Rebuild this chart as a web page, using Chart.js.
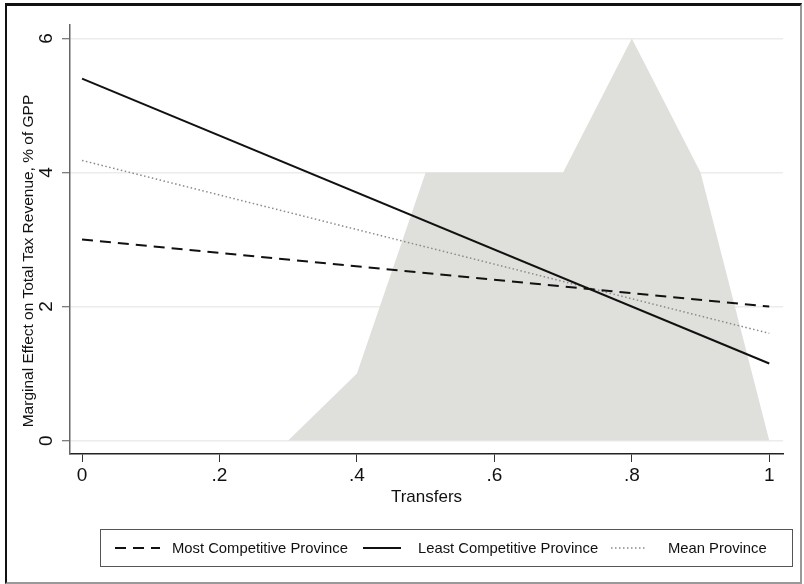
<!DOCTYPE html>
<html>
<head>
<meta charset="utf-8">
<script src="https://cdn.jsdelivr.net/npm/chart.js@4/dist/chart.umd.min.js"></script>
<style>
  html, body { margin: 0; padding: 0; background: #fff; }
  #wrap { position: relative; width: 804px; height: 584px; overflow: hidden; font-family: "Liberation Sans", Arial, sans-serif; }
  #chart { position: absolute; left: 0; top: 0; }
  .frame { position: absolute; left: 5px; top: 3px; width: 797px; height: 581px; box-sizing: border-box;
    border: 2px solid #111; border-right-color: #999; border-bottom-color: #999; border-top-width: 3px; }
  .ytitle { position: absolute; left: 28px; top: 261px; white-space: nowrap; font-size: 15.5px; color: #111;
    transform: translate(-50%, -50%) rotate(-90deg); }
  .legend { position: absolute; left: 100px; top: 529px; width: 693px; height: 38px; box-sizing: border-box;
    border: 1px solid #555; font-size: 14.8px; color: #111; }
  .legend .item { display: flex; align-items: center; position: absolute; top: 0; height: 36px; white-space: nowrap; }
  .legend svg { display: block; }
</style>
</head>
<body>
<div id="wrap">
  <canvas id="chart" width="804" height="584"></canvas>
  <div class="frame"></div>
  <div class="ytitle" id="ytitle"></div>
  <div class="legend" id="legend"></div>
</div>
<script>
const transfers = [0, 1];
const mostCompetitive = [3.0, 2.0];
const leastCompetitive = [5.4, 1.15];
const meanProvince = [4.18, 1.6];

// distribution of transfers shown as the grey area
const histX = [0.3, 0.4, 0.5, 0.6, 0.7, 0.8, 0.9, 1.0];
const histY = [0, 1, 4, 4, 4, 6, 4, 0];

const xTicks = [0, 0.2, 0.4, 0.6, 0.8, 1];
const xTickLabels = ["0", ".2", ".4", ".6", ".8", "1"];
const yTicks = [0, 2, 4, 6];
const yTickLabels = ["0", "2", "4", "6"];

const xTitle = "Transfers";
const yTitle = "Marginal Effect on Total Tax Revenue, % of GPP";
const seriesNames = ["Most Competitive Province", "Least Competitive Province", "Mean Province"];

const pts = (xs, ys) => xs.map((x, i) => ({ x, y: ys[i] }));

const lineStyles = [
  { color: "#111", width: 2, dash: [11, 7] },
  { color: "#111", width: 2, dash: [] },
  { color: "#8a8a8a", width: 1.5, dash: [1.5, 2.5] },
];

new Chart(document.getElementById("chart"), {
  type: "line",
  data: {
    datasets: [
      {
        label: seriesNames[0],
        data: pts(transfers, mostCompetitive),
        borderColor: lineStyles[0].color,
        borderWidth: lineStyles[0].width,
        borderDash: lineStyles[0].dash,
        pointRadius: 0,
        order: 1,
      },
      {
        label: seriesNames[1],
        data: pts(transfers, leastCompetitive),
        borderColor: lineStyles[1].color,
        borderWidth: lineStyles[1].width,
        pointRadius: 0,
        order: 1,
      },
      {
        label: seriesNames[2],
        data: pts(transfers, meanProvince),
        borderColor: lineStyles[2].color,
        borderWidth: lineStyles[2].width,
        borderDash: lineStyles[2].dash,
        pointRadius: 0,
        order: 1,
      },
      {
        label: "Transfers distribution",
        data: pts(histX, histY),
        borderWidth: 0,
        borderColor: "rgba(0,0,0,0)",
        backgroundColor: "#dfdfdc",
        fill: { value: 0 },
        pointRadius: 0,
        order: 10,
      },
    ],
  },
  options: {
    responsive: false,
    animation: false,
    layout: { padding: { left: 0, right: 21, top: 25, bottom: 76 } },
    plugins: { legend: { display: false }, tooltip: { enabled: false } },
    scales: {
      x: {
        type: "linear",
        min: -0.0175,
        max: 1.02,
        afterBuildTicks: (s) => { s.ticks = xTicks.map((v) => ({ value: v })); },
        afterFit: (s) => { s.height = 54; },
        ticks: {
          callback: (v) => xTickLabels[xTicks.indexOf(v)],
          color: "#111",
          font: { family: "Liberation Sans", size: 19 },
          padding: 2,
          maxRotation: 0,
        },
        grid: { drawOnChartArea: false, tickColor: "#333", tickLength: 8, tickWidth: 1 },
        border: { color: "#222", width: 1.5 },
        title: {
          display: true,
          text: xTitle,
          color: "#111",
          font: { family: "Liberation Sans", size: 17 },
          padding: { top: 0, bottom: 0 },
        },
      },
      y: {
        type: "linear",
        min: -0.2,
        max: 6.2,
        afterBuildTicks: (s) => { s.ticks = yTicks.map((v) => ({ value: v })); },
        afterFit: (s) => { s.width = 70; },
        ticks: {
          callback: (v) => yTickLabels[yTicks.indexOf(v)],
          color: "#111",
          font: { family: "Liberation Sans", size: 19 },
          minRotation: 90,
          maxRotation: 90,
          crossAlign: "center",
          padding: 10,
        },
        grid: { color: "#ececec", lineWidth: 1.5, tickColor: "#555", tickLength: 8, tickWidth: 1 },
        border: { color: "#666", width: 1.5 },
      },
    },
  },
});

document.getElementById("ytitle").textContent = yTitle;

// legend with line samples
const legendEl = document.getElementById("legend");
const legendPos = [
  { sample: 14, text: 71 },
  { sample: 262, text: 317 },
  { sample: 510, text: 567 },
];
const sampleWidths = [45, 38, 34];
seriesNames.forEach((name, i) => {
  const st = lineStyles[i];
  const sample = document.createElement("div");
  sample.className = "item";
  sample.style.left = legendPos[i].sample + "px";
  sample.innerHTML =
    `<svg width="${sampleWidths[i]}" height="10"><line x1="0" y1="5" x2="${sampleWidths[i]}" y2="5" stroke="${st.color}" stroke-width="${st.width}" stroke-dasharray="${st.dash.join(" ") || "none"}"/></svg>`;
  legendEl.appendChild(sample);
  const label = document.createElement("div");
  label.className = "item";
  label.style.left = legendPos[i].text + "px";
  label.textContent = name;
  legendEl.appendChild(label);
});
</script>
</body>
</html>
